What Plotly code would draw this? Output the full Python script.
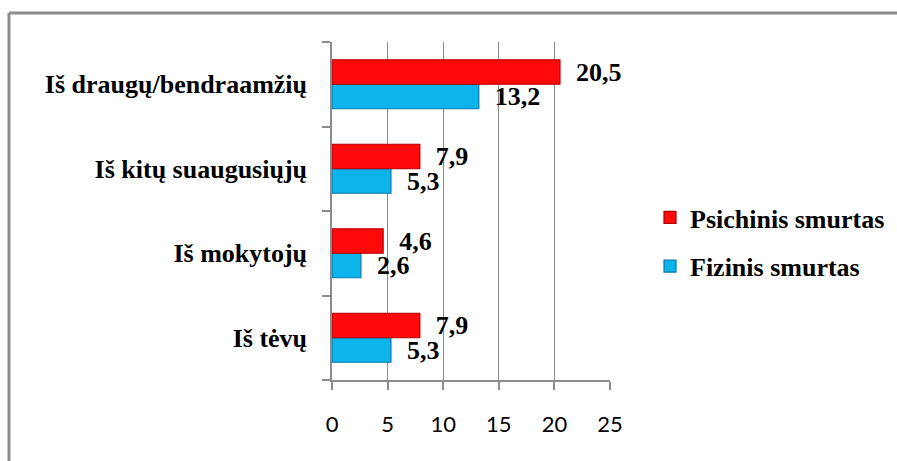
import plotly.graph_objects as go

categories = ["Iš tėvų", "Iš mokytojų", "Iš kitų suaugusiųjų", "Iš draugų/bendraamžių"]
psichinis = [7.9, 4.6, 7.9, 20.5]
fizinis = [5.3, 2.6, 5.3, 13.2]
series_names = ["Psichinis smurtas", "Fizinis smurtas"]
x_ticks = [0, 5, 10, 15, 20, 25]

def fmt(v):
    return "\u00a0\u00a0" + f"{v:.1f}".replace(".", ",")

W, H = 897, 461
L, R, T, B = 332, 610, 42, 380
ml, mr, mt, mb = L, W - R, T, H - B

def px_x(p):
    return (p - L) / (R - L)

def px_y(p):
    return (B - p) / (B - T)

serif = "Liberation Serif"
lab_font = dict(family=serif, size=26, color="black", weight="bold")

fig = go.Figure()
fig.add_trace(go.Bar(
    y=categories, x=fizinis, orientation="h", name=series_names[1],
    marker=dict(color="#0DB4EC", line=dict(color="#0A78A8", width=1.2)),
    text=[fmt(v) for v in fizinis], textposition="outside",
    textfont=lab_font, constraintext="none", cliponaxis=False,
    legendrank=2, legendgroup="f",
))
fig.add_trace(go.Bar(
    y=categories, x=psichinis, orientation="h", name=series_names[0],
    marker=dict(color="#FF0A0A", line=dict(color="#B00000", width=1.2)),
    text=[fmt(v) for v in psichinis], textposition="outside",
    textfont=lab_font, constraintext="none", cliponaxis=False,
    legendrank=1, legendgroup="p",
))

fig.update_layout(
    width=W, height=H,
    margin=dict(l=ml, r=mr, t=mt, b=mb, pad=0, autoexpand=False),
    paper_bgcolor="white", plot_bgcolor="white",
    barmode="group", bargap=0.42, bargroupgap=0,
    showlegend=True,
    legend=dict(
        x=px_x(650), y=px_y(194), xanchor="left", yanchor="top",
        font=dict(family=serif, size=26, color="black", weight="bold"),
        traceorder="grouped", tracegroupgap=12,
        itemwidth=30, bgcolor="rgba(0,0,0,0)",
    ),
    xaxis=dict(
        range=[0, 25], tickvals=x_ticks, ticktext=[str(t) for t in x_ticks],
        showgrid=True, gridcolor="#8C8C8C", gridwidth=1,
        showline=True, linecolor="#8C8C8C", linewidth=1.5,
        ticks="outside", ticklen=8, tickcolor="#8C8C8C", tickwidth=1.5,
        tickfont=dict(family="Lato", size=22, color="black"),
        ticklabelstandoff=16, zeroline=False, fixedrange=True,
    ),
    yaxis=dict(
        type="category", categoryorder="array", categoryarray=categories,
        showline=True, linecolor="#8C8C8C", linewidth=1.5,
        ticks="outside", ticklen=8, tickcolor="#8C8C8C", tickwidth=1.5,
        tickson="boundaries", showgrid=False,
        tickfont=dict(family=serif, size=26, color="black", weight="bold"),
        ticklabelstandoff=18, fixedrange=True,
    ),
    shapes=[
        dict(type="line", xref="paper", yref="paper",
             x0=px_x(9), x1=px_x(W), y0=px_y(13), y1=px_y(13),
             line=dict(color="#8C8C8C", width=3)),
        dict(type="line", xref="paper", yref="paper",
             x0=px_x(9), x1=px_x(9), y0=px_y(13), y1=px_y(H),
             line=dict(color="#8C8C8C", width=3)),
    ],
)

fig.write_html("out.html", config={"displayModeBar": False},
               post_script="document.body.style.margin='0';document.body.style.overflow='hidden';")
